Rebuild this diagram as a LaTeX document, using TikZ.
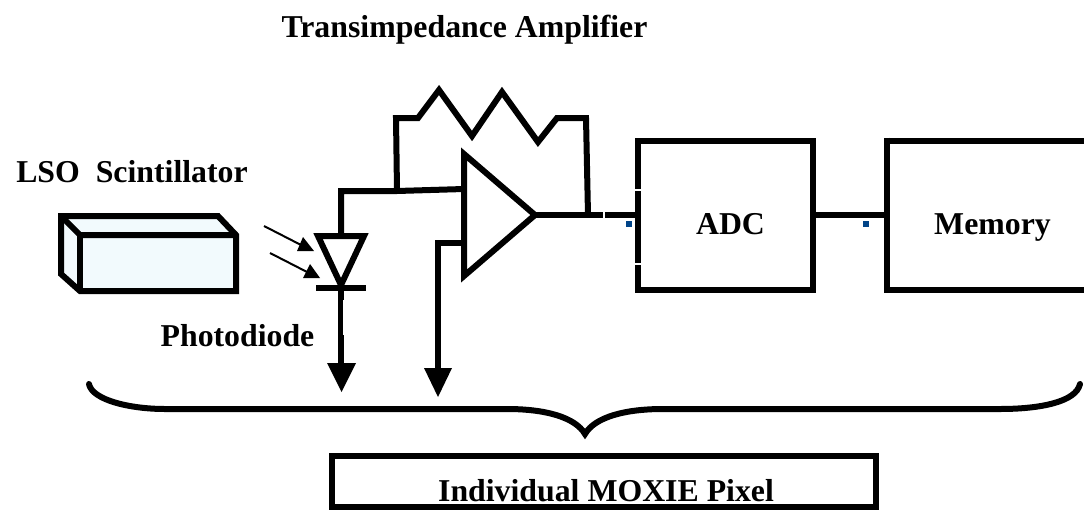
\documentclass[tikz,border=0pt]{standalone}
\usepackage{fontspec}
\setmainfont{Liberation Serif}
\definecolor{icefill}{HTML}{F2FAFD}
\definecolor{dotblue}{HTML}{004488}
\begin{document}
\begin{tikzpicture}[x=1pt,y=-1pt,
  wire/.style={line width=6pt,line join=miter,black},
  boxline/.style={line width=6pt,black},
  thinwire/.style={line width=2pt,black},
  label/.style={font=\bfseries\fontsize{31.8}{34}\selectfont,inner sep=0pt,text=black,anchor=base},
  head/.style={fill=black,draw=none},
  dot/.style={fill=dotblue,draw=none}]
\useasboundingbox (0,0) rectangle (1084,509);
% labels
\node[label] (title) at (464.5,37) {Transimpedance Amplifier};
\node[label] (lso) at (132,182) {LSO\ \ Scintillator};
\node[label] (pd) at (237.5,346) {Photodiode};
\node[label] (adclabel) at (730.5,234) {ADC};
\node[label] (memlabel) at (992.5,234) {Memory};
% scintillator
\filldraw[wire,fill=icefill] (61,216)--(218,216)--(236,235)--(236,291)--(80,291)--(61,274)--cycle;
\draw[wire] (61,216)--(80,235)--(236,235);
\draw[wire] (80,235)--(80,291);
% light arrows
\coordinate (l1a) at (264,226); \coordinate (l1b) at (303,246);
\coordinate (l2a) at (270,253); \coordinate (l2b) at (309,273);
\draw[thinwire] (l1a)--(l1b);
\draw[thinwire] (l2a)--(l2b);
\fill[head] (314,251)--(297,251)--(303,237)--cycle;
\fill[head] (320,278)--(303,278)--(310,264)--cycle;
% diode
\coordinate (dtop) at (341,236);
\coordinate (dbot) at (341,285);
\draw[wire] (318,236)--(364,236)--(dbot)--cycle;
\draw[wire] (316,288)--(366,288);
\draw[wire] (dbot)--(341,363);
\draw[white,line width=1pt] (343.5,300)--(343.5,335);
\fill[head] (327,363)--(356,363)--(341.5,392)--cycle;
% amp
\coordinate (ainp) at (464,189);
\coordinate (ainm) at (464,243);
\coordinate (aout) at (535,215);
\draw[wire] (464,154)--(aout)--(464,276)--cycle;
% input wires
\draw[wire] (dtop)--(341,191)--(397,191)--(ainp);
\draw[wire] (397,191)--(396,118)--(418,118)--(439,90)--(472,136)--(502,92)--(538,142)--(557,118)--(586,118)--(588,215);
\draw[wire] (ainm)--(438,243)--(438,368);
\fill[head] (424,368)--(452,368)--(438,397)--cycle;
% ADC + memory
\node[draw,boxline,minimum width=175pt,minimum height=149pt,inner sep=0pt,anchor=center] (adc) at (725,215.5) {};
\draw[white,line width=1.5pt] (633,190)--(642,190);
\draw[white,line width=1.5pt] (633,264)--(642,264);
\draw[boxline] (887,140.5)--(1084,140.5);
\draw[boxline] (887,290)--(1084,290);
\draw[boxline] (887,137.5)--(887,293);
\coordinate (memin) at (887,215);
\draw[wire] (aout)--(603,215);
\draw[wire] (605,215)--(adc.west |- aout);
\draw[wire] (adc.east |- memin)--(memin);
\fill[dot] (626,221) rectangle (632,227);
\fill[dot] (863,221) rectangle (869,227);
% brace
\coordinate (bl) at (89,384);
\coordinate (br) at (1080,384);
\coordinate (bc) at (585,434);
\draw[wire,line cap=round] (bl) .. controls (92,400) and (130,409) .. (165,409)
  -- (507,409) .. controls (545,409) and (575,417) .. (bc)
  .. controls (595,417) and (625,409) .. (663,409)
  -- (1000,409) .. controls (1040,409) and (1076,402) .. (br);
% pixel box
\node[draw,boxline,minimum width=543.5pt,minimum height=50.5pt,inner sep=0pt] (pixel) at (604,481.7) {};
\node[label] (pixlabel) at (606,501) {Individual MOXIE Pixel};
\end{tikzpicture}
\end{document}
